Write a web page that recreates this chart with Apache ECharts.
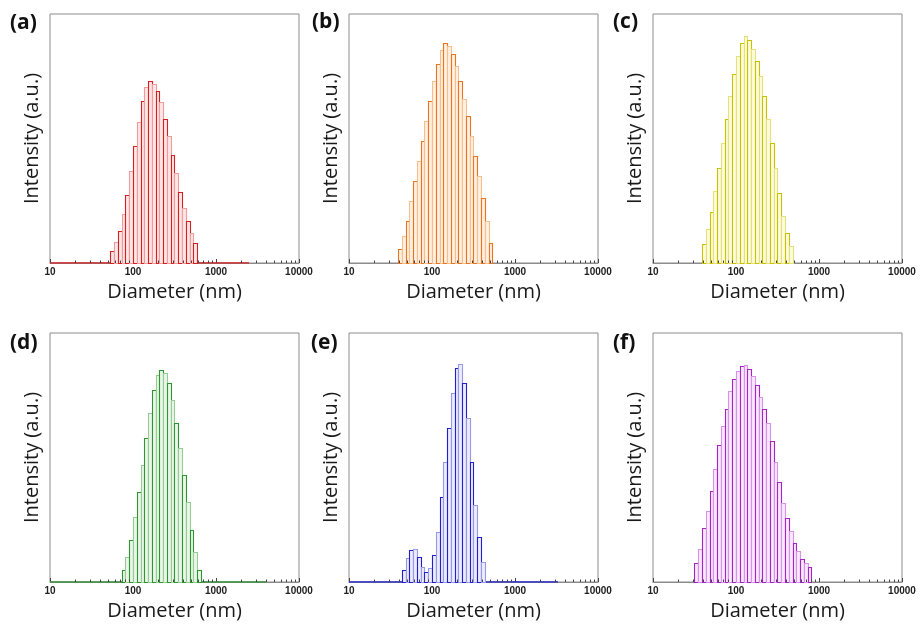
<!DOCTYPE html>
<html>
<head>
<meta charset="utf-8">
<script src="https://cdn.jsdelivr.net/npm/echarts@6/dist/echarts.min.js"></script>
<style>
html,body{margin:0;padding:0;background:#fff;}
#chart{width:921px;height:628px;}
</style>
</head>
<body>
<div id="chart"></div>
<script>
// Bin edges (nm), ~22 bins per decade
const binEdges = [10, 11.10, 12.33, 13.69, 15.20, 16.88, 18.74, 20.81, 23.10, 25.65, 28.48,
  31.62, 35.11, 38.98, 43.29, 48.06, 53.37, 59.25, 65.79, 73.05, 81.11, 90.05,
  100, 111.0, 123.3, 136.9, 152.0, 168.8, 187.4, 208.1, 231.0, 256.5, 284.8,
  316.2, 351.1, 389.8, 432.9, 480.6, 533.7, 592.5, 657.9, 730.5, 811.1, 900.5, 1000];

const tickLabels = ['10', '100', '1000', '10000'];
const panelLabels = ['(a)', '(b)', '(c)', '(d)', '(e)', '(f)'];
const xTitle = 'Diameter (nm)';
const yTitle = 'Intensity (a.u.)';

// intensity (% of axis height) per bin, starting at bin index *Start
const aStart = 16;
const aValues = [5, 8.5, 13, 19.5, 27.5, 37, 47, 56.5, 65, 70.5, 73, 72, 69, 64.5, 58, 51, 43.5, 36, 28.5, 22, 17, 12, 8];
const bStart = 13;
const bValues = [5.5, 11, 17, 25, 33, 41, 49, 57, 65, 73, 80, 85.5, 88.5, 87, 84, 79, 73, 66, 59, 51, 43, 35, 26, 17, 8];
const cStart = 13;
const cValues = [7.5, 13.5, 20.5, 29, 38, 48, 58, 67, 76, 83, 88.5, 91, 89.5, 86, 81, 75, 67, 58, 48, 38, 28, 19, 12, 7];
const dStart = 19;
const dValues = [5, 10, 17, 26, 36, 47, 58, 68, 77, 83, 85.3, 84, 80, 73, 64, 54, 43, 32, 21, 12, 5];
const eStart = 14;
const eValues = [5, 9.5, 13, 13.4, 10, 6, 4, 5.5, 11, 20, 34, 48, 62, 76, 86, 87.6, 80, 66, 48, 31, 18, 8];
const fStart = 11;
const fValues = [7.8, 13.1, 21.8, 28.5, 36.5, 45.2, 54.9, 62.6, 69.6, 76.7, 81.4, 84.7, 86.6, 87, 85.4, 82.7, 79, 74.4, 69.6, 64, 56.6, 48, 40, 31.9, 25.8, 20.5, 15.8, 12.4, 9.4, 7.5, 6.2];

// zero-intensity baseline extents (nm) drawn in series colour
const baselineEnd = [2500, null, null, 4000, 3300, null];

const starts = [aStart, bStart, cStart, dStart, eStart, fStart];
const values = [aValues, bValues, cValues, dValues, eValues, fValues];
const palette = [
  {dark: '#d42020', light: '#f09c9c', fill: '#fde6e6'},
  {dark: '#ec7420', light: '#f7bf8c', fill: '#fff0e2'},
  {dark: '#c8c000', light: '#e4e07c', fill: '#fcfbdc'},
  {dark: '#2f952f', light: '#94cc94', fill: '#eaf6ea'},
  {dark: '#2020cc', light: '#9898e8', fill: '#ececfd'},
  {dark: '#a424c4', light: '#d892ea', fill: '#f8e8fd'}
];

const lefts = [50, 349, 653];
const tops = [14, 333];
const W = 249, H = 249;

const grids = [], xAxes = [], yAxes = [], series = [], graphics = [];
const minorTicks = [];
for (let d = 10; d < 10000; d *= 10) for (let m = 2; m <= 9; m++) minorTicks.push(d * m);

for (let p = 0; p < 6; p++) {
  const col = p % 3, row = Math.floor(p / 3);
  grids.push({left: lefts[col], top: tops[row], width: W, height: H, show: true,
    borderColor: '#8c8c8c', borderWidth: 1, backgroundColor: 'transparent'});
  xAxes.push({
    type: 'log', logBase: 10, min: 10, max: 10000, gridIndex: p,
    axisLine: {show: true, lineStyle: {color: '#8c8c8c', width: 1}},
    axisTick: {show: true, inside: true, length: 4, lineStyle: {color: '#444'}},
    splitLine: {show: false},
    axisLabel: {
      show: true, margin: 4, color: '#222', fontFamily: 'Liberation Sans, Arial', fontWeight: 'bold', fontSize: 10,
      formatter: v => tickLabels[Math.round(Math.log10(v)) - 1]
    },
    name: xTitle, nameLocation: 'middle', nameGap: 19,
    nameTextStyle: {fontFamily: 'Open Sans', fontSize: 20, color: '#1a1a1a'}
  });
  yAxes.push({
    type: 'value', min: 0, max: 100, gridIndex: p,
    axisLine: {show: false}, axisTick: {show: false}, axisLabel: {show: false}, splitLine: {show: false},
    name: yTitle, nameLocation: 'middle', nameGap: 8,
    nameTextStyle: {fontFamily: 'Open Sans', fontSize: 20, color: '#1a1a1a'}
  });

  const pal = palette[p];
  const st = starts[p];
  const data = values[p].map((v, k) => [binEdges[st + k], binEdges[st + k + 1], v, k % 2]);

  if (baselineEnd[p]) {
    series.push({type: 'line', xAxisIndex: p, yAxisIndex: p, data: [[10, 0], [baselineEnd[p], 0]],
      symbol: 'none', lineStyle: {color: pal.dark, width: 1.3}, z: 3, silent: true, animation: false});
  }

  series.push({
    type: 'custom', xAxisIndex: p, yAxisIndex: p, data: data, animation: false, z: 4,
    encode: {x: [0, 1], y: 2},
    renderItem: (params, api) => {
      const x0 = api.value(0), x1 = api.value(1), h = api.value(2), alt = api.value(3);
      const b = api.coord([x0, 0]), t = api.coord([x1, h]);
      return {type: 'rect',
        shape: {x: Math.round(b[0]) + 0.5, y: Math.round(t[1]) + 0.5, width: Math.round(t[0]) - Math.round(b[0]), height: Math.round(b[1]) - Math.round(t[1])},
        style: {fill: pal.fill, stroke: alt ? pal.light : pal.dark, lineWidth: 1.1}};
    }
  });

  series.push({
    type: 'custom', xAxisIndex: p, yAxisIndex: p, data: minorTicks.map(v => [v]), animation: false, z: 5, silent: true,
    encode: {x: 0},
    renderItem: (params, api) => {
      const c = api.coord([api.value(0), 0]);
      const x = Math.round(c[0]) + 0.5;
      return {type: 'line', shape: {x1: x, y1: c[1], x2: x, y2: c[1] - 2.5}, style: {stroke: '#444', lineWidth: 1}};
    }
  });
}

const labelPos = [[10, 13], [312, 12], [613, 12], [10, 333], [311, 333], [613, 333]];
panelLabels.forEach((t, i) => {
  graphics.push({type: 'text', left: labelPos[i][0], top: labelPos[i][1],
    style: {text: t, font: 'bold 21px "Open Sans"', fill: '#111'}});
});

const chart = echarts.init(document.getElementById('chart'), null, {renderer: 'canvas'});
chart.setOption({
  animation: false,
  backgroundColor: '#fff',
  grid: grids, xAxis: xAxes, yAxis: yAxes, series: series, graphic: graphics
});
</script>
</body>
</html>
